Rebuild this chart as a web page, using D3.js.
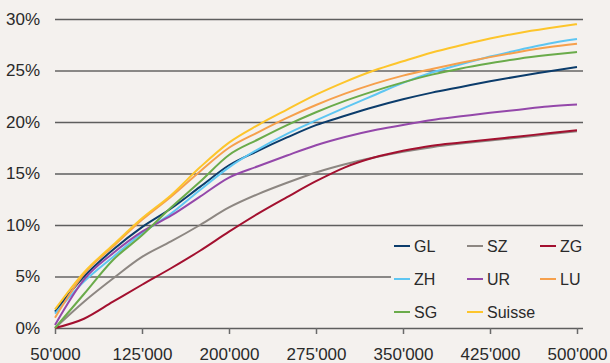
<!DOCTYPE html>
<html>
<head>
<meta charset="utf-8">
<script src="https://cdn.jsdelivr.net/npm/d3@7"></script>
<style>
  body { margin: 0; background: #f4f1ee; }
  svg { display: block; font-family: "Liberation Sans", Arial, sans-serif; }
</style>
</head>
<body>
<script>
const w = 610;
const h = 363;

// income steps (CHF)
const income = [50000, 75000, 100000, 125000, 150000, 175000, 200000, 225000, 250000, 275000,
                300000, 325000, 350000, 375000, 400000, 425000, 450000, 475000, 500000];

// tax rate in % per canton
const GL = [1.6, 5.0, 7.6, 9.8, 11.6, 13.7, 15.8, 17.2, 18.5, 19.7, 20.6, 21.45, 22.2, 22.85, 23.4, 23.95, 24.45, 24.9, 25.35];
const SZ = [0.0, 2.55, 4.8, 6.9, 8.4, 10.0, 11.7, 13.0, 14.1, 15.1, 15.9, 16.55, 17.1, 17.55, 17.9, 18.2, 18.5, 18.8, 19.1];
const ZG = [0.0, 0.9, 2.55, 4.2, 5.8, 7.5, 9.35, 11.1, 12.7, 14.25, 15.6, 16.55, 17.2, 17.7, 18.0, 18.3, 18.6, 18.9, 19.2];
const ZH = [1.4, 4.5, 6.9, 9.2, 11.1, 13.4, 15.6, 17.35, 18.85, 20.15, 21.4, 22.6, 23.8, 24.8, 25.6, 26.35, 27.0, 27.6, 28.05];
const UR = [0.3, 4.7, 7.25, 9.35, 10.9, 12.75, 14.6, 15.7, 16.75, 17.75, 18.55, 19.2, 19.7, 20.2, 20.55, 20.9, 21.2, 21.5, 21.7];
const LU = [1.0, 5.25, 7.9, 10.5, 12.75, 15.2, 17.5, 19.0, 20.4, 21.65, 22.75, 23.7, 24.5, 25.15, 25.75, 26.3, 26.8, 27.25, 27.6];
const SG = [0.0, 3.3, 6.6, 9.0, 11.7, 14.2, 16.8, 18.3, 19.7, 20.95, 22.05, 23.0, 23.85, 24.6, 25.2, 25.7, 26.15, 26.5, 26.8];
const Suisse = [1.8, 5.4, 8.05, 10.65, 12.9, 15.6, 18.0, 19.7, 21.2, 22.65, 23.9, 25.0, 25.9, 26.75, 27.45, 28.1, 28.65, 29.1, 29.5];

const names = ["GL", "SZ", "ZG", "ZH", "UR", "LU", "SG", "Suisse"];
const colors = ["#0b3c6b", "#8d8782", "#a3102f", "#5ec6f2", "#9448aa", "#f6a04c", "#6aab4a", "#fdc52b"];
const seriesValues = [GL, SZ, ZG, ZH, UR, LU, SG, Suisse];

const xTicks = [50000, 125000, 200000, 275000, 350000, 425000, 500000];
const yTicks = [0, 5, 10, 15, 20, 25, 30];

const plotLeft = 55, plotRight = 577, gridRight = 583;
const plotTop = 19, plotBottom = 328;

const svg = d3.select("body")
    .append("svg")
    .attr("width", w)
    .attr("height", h);

const xScale = d3.scaleLinear().domain([50000, 500000]).range([plotLeft, plotRight]);
const yScale = d3.scaleLinear().domain([0, 30]).range([plotBottom, plotTop]);

const swiss = d3.formatLocale({ decimal: ".", thousands: "'", grouping: [3], currency: ["", ""] });

// y gridlines + labels
const yAxis = d3.axisLeft(yScale)
    .tickValues(yTicks)
    .tickSizeInner(-(gridRight - plotLeft))
    .tickSizeOuter(0)
    .tickPadding(15)
    .tickFormat(d => d + "%");

const gy = svg.append("g")
    .attr("class", "yaxis")
    .attr("transform", "translate(" + plotLeft + ",0)")
    .call(yAxis);
gy.select(".domain").remove();
gy.selectAll("line")
    .attr("stroke", d => (d === 25 || d === 5) ? "#1e1e1e" : "#5e5e5e")
    .attr("stroke-width", d => (d === 25 || d === 5) ? 1 : 1.6);
gy.selectAll("text")
    .attr("font-size", 17)
    .attr("fill", "#2a2a2a")
    .attr("font-family", "Liberation Sans, Arial, sans-serif");

// x axis
const xAxis = d3.axisBottom(xScale)
    .tickValues(xTicks)
    .tickSizeInner(6)
    .tickSizeOuter(0)
    .tickPadding(14)
    .tickFormat(swiss.format(","));

const gx = svg.append("g")
    .attr("class", "xaxis")
    .attr("transform", "translate(0," + plotBottom + ")")
    .call(xAxis);
gx.select(".domain").remove();
gx.selectAll("line").attr("stroke", "#6a6a6a").attr("stroke-width", 1.5);
gx.selectAll("text")
    .attr("font-size", 17)
    .attr("fill", "#2a2a2a")
    .attr("font-family", "Liberation Sans, Arial, sans-serif");

const line = d3.line()
    .x((d, i) => xScale(income[i]))
    .y(d => yScale(d))
    .curve(d3.curveMonotoneX);

svg.selectAll("path.series")
    .data(seriesValues)
    .enter()
    .append("path")
    .attr("class", "series")
    .attr("fill", "none")
    .attr("stroke", (d, i) => colors[i])
    .attr("stroke-width", 2)
    .attr("d", line);

// legend box (hides gridline behind it)
const legend = svg.append("g").attr("class", "legend");
legend.append("rect")
    .attr("x", 391)
    .attr("y", 232)
    .attr("width", gridRight - 391 + 1)
    .attr("height", 90)
    .attr("fill", "#f4f1ee");

const item = legend.selectAll("g.item")
    .data(names)
    .enter()
    .append("g")
    .attr("class", "item")
    .attr("transform", (d, i) => "translate(" + (394 + (i % 3) * 73) + "," + (246 + Math.floor(i / 3) * 33) + ")");

item.append("line")
    .attr("x1", 0).attr("x2", 16)
    .attr("y1", 0).attr("y2", 0)
    .attr("stroke", (d, i) => colors[i])
    .attr("stroke-width", 2);

item.append("text")
    .attr("x", 20)
    .attr("y", 6)
    .attr("font-size", 16)
    .attr("fill", "#2a2a2a")
    .text(d => d);
</script>
</body>
</html>
